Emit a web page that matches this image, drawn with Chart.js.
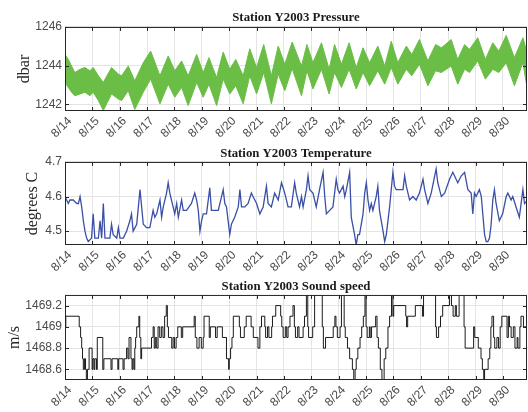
<!DOCTYPE html>
<html>
<head>
<meta charset="utf-8">
<script src="https://cdn.jsdelivr.net/npm/chart.js@4.4.1/dist/chart.umd.min.js"></script>
<style>
  html, body { margin: 0; padding: 0; background: #fff; }
  #wrap { position: relative; width: 528px; height: 412px; overflow: hidden; }
  canvas { position: absolute; left: 0; }
</style>
</head>
<body>
<div id="wrap">
  <canvas id="pressure" width="528" height="140" style="top:0"></canvas>
  <canvas id="temperature" width="528" height="140" style="top:135px"></canvas>
  <canvas id="sound" width="528" height="144" style="top:268px"></canvas>
</div>
<script>
// time axis: days since 8/14 00:00
const dateLabels = ["8/14", "8/15", "8/16", "8/17", "8/18", "8/19", "8/20", "8/21", "8/22",
  "8/23", "8/24", "8/25", "8/26", "8/27", "8/28", "8/29", "8/30"];
const dayTicks = [0, 1, 2, 3, 4, 5, 6, 7, 8, 9, 10, 11, 12, 13, 14, 15, 16];

// pressure is a thick noisy band: upper and lower edge of it
const pressureDay = [0, 0.12, 0.24, 0.36, 0.55, 0.73, 0.91, 1.03, 1.22, 1.4, 1.7, 1.95, 2.07, 2.31, 2.55,
  2.86, 3.13, 3.47, 3.77, 4.01, 4.26, 4.5, 4.81, 5.05, 5.26, 5.54, 5.78, 6.02, 6.24, 6.51, 6.75, 7.0,
  7.26, 7.54, 7.79, 8.03, 8.3, 8.64, 8.84, 9.06, 9.37, 9.65, 9.85, 10.1, 10.38, 10.64, 10.89, 11.13,
  11.43, 11.68, 11.92, 12.16, 12.47, 12.67, 12.95, 13.26, 13.54, 13.75, 14.11, 14.35, 14.6, 14.78,
  15.08, 15.36, 15.63, 15.85, 16.12, 16.42, 16.73, 16.92];
const pressureHigh = [1244.58, 1244.32, 1243.98, 1243.64, 1243.81, 1243.9, 1243.73, 1243.9, 1243.47,
  1243.13, 1243.9, 1243.56, 1243.47, 1243.98, 1243.21, 1244.15, 1244.75, 1243.47, 1244.5, 1243.73,
  1244.24, 1243.47, 1244.58, 1243.64, 1244.41, 1243.38, 1244.7, 1243.81, 1244.32, 1243.47, 1244.87,
  1243.9, 1245.09, 1243.47, 1245.01, 1244.07, 1245.22, 1243.98, 1245.09, 1244.15, 1245.18, 1243.81,
  1245.09, 1244.07, 1245.18, 1243.9, 1244.92, 1244.15, 1245.01, 1243.98, 1245.26, 1244.15, 1245.01,
  1244.58, 1245.35, 1244.24, 1245.09, 1244.92, 1245.35, 1244.32, 1245.09, 1244.84, 1245.44, 1244.32,
  1245.18, 1244.75, 1245.56, 1244.41, 1245.44, 1244.5];
const pressureLow = [1243.13, 1242.87, 1242.62, 1242.44, 1242.53, 1242.62, 1242.44, 1242.62, 1242.19,
  1241.68, 1242.53, 1242.27, 1242.19, 1242.7, 1241.73, 1242.62, 1243.3, 1242.02, 1243.04, 1242.36,
  1242.87, 1241.93, 1243.13, 1242.36, 1243.04, 1241.93, 1243.3, 1242.53, 1242.96, 1242.02, 1243.47,
  1242.53, 1243.64, 1242.02, 1243.56, 1242.7, 1243.85, 1242.44, 1243.73, 1242.79, 1243.81, 1242.53,
  1243.64, 1242.87, 1243.81, 1242.79, 1243.64, 1242.96, 1243.73, 1243.04, 1243.9, 1243.04, 1243.81,
  1243.47, 1244.07, 1242.96, 1243.73, 1243.64, 1243.98, 1243.04, 1243.81, 1243.64, 1244.24, 1243.3,
  1243.81, 1243.64, 1244.15, 1242.96, 1244.15, 1242.53];
const pressureTicks = [1242, 1244, 1246];

const tempDay = [0, 0.12, 0.18, 0.3, 0.43, 0.49, 0.55, 0.61, 0.67, 0.73, 0.79, 0.85, 0.97, 1.03, 1.09,
  1.22, 1.28, 1.34, 1.4, 1.46, 1.64, 1.7, 1.76, 1.89, 1.95, 2.01, 2.13, 2.25, 2.37, 2.43, 2.49, 2.62,
  2.74, 2.8, 2.86, 2.98, 3.1, 3.22, 3.28, 3.35, 3.47, 3.53, 3.59, 3.71, 3.77, 3.83, 3.95, 4.01, 4.08,
  4.14, 4.26, 4.32, 4.44, 4.62, 4.74, 4.81, 4.87, 4.93, 4.99, 5.05, 5.17, 5.29, 5.35, 5.47, 5.6, 5.78,
  5.84, 5.9, 6.02, 6.08, 6.2, 6.33, 6.39, 6.45, 6.57, 6.69, 6.81, 6.87, 7.0, 7.12, 7.24, 7.36, 7.42,
  7.54, 7.66, 7.79, 7.91, 8.03, 8.15, 8.27, 8.39, 8.45, 8.57, 8.64, 8.7, 8.82, 8.88, 8.94, 9.06, 9.18,
  9.3, 9.43, 9.49, 9.55, 9.67, 9.79, 9.91, 9.97, 10.03, 10.16, 10.22, 10.28, 10.4, 10.46, 10.58, 10.64,
  10.7, 10.76, 10.89, 10.95, 11.01, 11.07, 11.13, 11.19, 11.25, 11.37, 11.43, 11.49, 11.62, 11.68,
  11.74, 11.86, 11.98, 12.04, 12.1, 12.22, 12.35, 12.41, 12.47, 12.59, 12.71, 12.83, 12.95, 13.08,
  13.14, 13.26, 13.38, 13.56, 13.62, 13.75, 13.87, 14.05, 14.17, 14.29, 14.35, 14.48, 14.6, 14.72,
  14.84, 14.9, 14.96, 15.02, 15.14, 15.21, 15.33, 15.39, 15.45, 15.51, 15.57, 15.63, 15.69, 15.75,
  15.87, 15.99, 16.12, 16.18, 16.3, 16.36, 16.48, 16.6, 16.73, 16.79, 16.9];
const tempValue = [4.6, 4.58, 4.59, 4.59, 4.58, 4.58, 4.6, 4.57, 4.53, 4.5, 4.48, 4.47, 4.48, 4.55,
  4.48, 4.48, 4.53, 4.48, 4.58, 4.48, 4.48, 4.52, 4.49, 4.48, 4.51, 4.48, 4.48, 4.5, 4.53, 4.55, 4.5,
  4.52, 4.62, 4.57, 4.52, 4.51, 4.51, 4.56, 4.54, 4.55, 4.59, 4.54, 4.57, 4.61, 4.64, 4.61, 4.57, 4.55,
  4.58, 4.54, 4.59, 4.56, 4.56, 4.58, 4.61, 4.59, 4.56, 4.5, 4.53, 4.55, 4.55, 4.625, 4.56, 4.56, 4.56,
  4.62, 4.58, 4.57, 4.49, 4.52, 4.54, 4.57, 4.62, 4.57, 4.57, 4.58, 4.61, 4.6, 4.58, 4.55, 4.57, 4.63,
  4.58, 4.57, 4.61, 4.59, 4.64, 4.61, 4.57, 4.57, 4.64, 4.61, 4.57, 4.6, 4.57, 4.62, 4.66, 4.62, 4.61,
  4.57, 4.62, 4.67, 4.6, 4.55, 4.56, 4.57, 4.65, 4.62, 4.61, 4.63, 4.6, 4.62, 4.67, 4.54, 4.49, 4.46,
  4.49, 4.49, 4.55, 4.61, 4.64, 4.59, 4.56, 4.58, 4.56, 4.6, 4.63, 4.56, 4.5, 4.47, 4.49, 4.57, 4.67,
  4.63, 4.62, 4.62, 4.62, 4.66, 4.63, 4.59, 4.6, 4.59, 4.61, 4.65, 4.62, 4.58, 4.61, 4.68, 4.64, 4.6,
  4.61, 4.65, 4.67, 4.65, 4.64, 4.66, 4.67, 4.62, 4.61, 4.55, 4.61, 4.6, 4.62, 4.6, 4.49, 4.47, 4.47,
  4.48, 4.52, 4.59, 4.62, 4.58, 4.53, 4.55, 4.6, 4.61, 4.59, 4.6, 4.57, 4.54, 4.62, 4.58, 4.59];
const tempTicks = [4.5, 4.6, 4.7];

// sound speed is quantised to 0.1 m/s, each value holds until the next time
const soundDay = [0, 0.03, 0.52, 0.57, 0.61, 0.64, 0.67, 0.71, 0.75, 0.78, 0.82, 0.88, 0.99, 1.02, 1.06,
  1.09, 1.15, 1.18, 1.38, 1.42, 1.68, 1.72, 1.93, 1.96, 2.12, 2.16, 2.25, 2.3, 2.34, 2.41, 2.45, 2.48,
  2.52, 2.55, 2.58, 2.62, 2.7, 2.73, 2.77, 2.8, 3.16, 3.22, 3.26, 3.3, 3.35, 3.4, 3.46, 3.52, 3.58,
  3.64, 3.7, 3.74, 3.78, 3.9, 3.95, 4.0, 4.06, 4.12, 4.25, 4.3, 4.72, 4.76, 4.82, 4.9, 4.98, 5.05,
  5.08, 5.27, 5.31, 5.5, 5.56, 5.75, 5.9, 5.98, 6.0, 6.05, 6.1, 6.15, 6.37, 6.41, 6.55, 6.62, 6.8,
  6.88, 7.05, 7.12, 7.18, 7.3, 7.33, 7.4, 7.45, 7.55, 7.58, 7.7, 7.88, 7.92, 7.97, 8.05, 8.1, 8.15,
  8.22, 8.33, 8.38, 8.42, 8.5, 8.55, 8.7, 8.75, 8.82, 8.87, 8.9, 9.05, 9.12, 9.4, 9.44, 9.52, 9.8,
  9.86, 9.9, 9.95, 10.05, 10.1, 10.2, 10.24, 10.32, 10.4, 10.5, 10.55, 10.6, 10.64, 10.7, 10.78,
  10.84, 10.9, 10.96, 11.0, 11.04, 11.12, 11.15, 11.2, 11.35, 11.4, 11.45, 11.52, 11.58, 11.66,
  11.72, 11.8, 11.86, 11.93, 11.98, 12.01, 12.45, 12.48, 12.52, 12.8, 13.06, 13.1, 13.54, 13.57,
  13.65, 13.72, 13.8, 14.05, 14.12, 14.18, 14.26, 14.3, 14.4, 14.58, 14.62, 14.93, 14.97, 15.1,
  15.2, 15.25, 15.3, 15.33, 15.46, 15.52, 15.56, 15.6, 15.66, 15.7, 15.78, 15.84, 15.9, 15.96, 16.15,
  16.2, 16.24, 16.3, 16.38, 16.44, 16.52, 16.55, 16.62, 16.66, 16.75, 16.8, 16.88];
const soundValue = [1469.1, 1469.0, 1469.1, 1469.0, 1468.9, 1468.8, 1468.7, 1468.6, 1468.7, 1468.6,
  1468.5, 1468.6, 1468.8, 1468.6, 1468.7, 1468.6, 1468.7, 1468.6, 1468.9, 1468.6, 1468.7, 1468.6,
  1468.7, 1468.6, 1468.7, 1468.6, 1468.7, 1468.8, 1468.7, 1468.9, 1468.7, 1468.6, 1468.7, 1468.6,
  1468.8, 1468.9, 1469.0, 1469.1, 1468.9, 1468.7, 1468.8, 1468.9, 1469.0, 1468.8, 1468.9, 1468.8,
  1469.0, 1468.9, 1469.0, 1468.9, 1469.1, 1469.2, 1469.0, 1468.9, 1468.8, 1468.9, 1468.8, 1468.9,
  1469.0, 1468.9, 1469.0, 1469.1, 1468.9, 1468.8, 1468.9, 1468.8, 1468.9, 1469.1, 1468.9, 1469.0,
  1468.9, 1469.0, 1468.9, 1468.7, 1468.6, 1468.7, 1468.8, 1468.9, 1469.1, 1469.0, 1468.9, 1469.0,
  1469.1, 1469.0, 1468.9, 1468.8, 1469.0, 1469.1, 1469.0, 1468.9, 1469.0, 1468.9, 1469.0, 1469.1,
  1469.2, 1469.1, 1469.0, 1468.9, 1469.0, 1468.9, 1469.0, 1469.1, 1469.2, 1469.0, 1468.9, 1469.0,
  1468.9, 1469.0, 1469.1, 1469.3, 1469.0, 1468.9, 1469.0, 1469.3, 1469.0, 1468.8, 1468.9, 1469.0,
  1469.1, 1469.0, 1468.9, 1469.0, 1469.3, 1469.0, 1468.9, 1468.8, 1468.7, 1468.6, 1468.5, 1468.6,
  1468.7, 1468.8, 1468.9, 1469.0, 1469.1, 1469.3, 1469.0, 1468.9, 1469.0, 1468.9, 1469.0, 1469.1,
  1468.9, 1468.8, 1468.6, 1468.5, 1468.7, 1468.8, 1469.0, 1469.1, 1469.3, 1469.1, 1469.2, 1469.1,
  1469.0, 1469.1, 1469.2, 1469.1, 1469.3, 1469.0, 1468.9, 1469.0, 1469.1, 1469.2, 1469.3, 1469.2,
  1469.1, 1469.2, 1469.1, 1469.3, 1469.0, 1468.8, 1469.0, 1468.9, 1468.8, 1468.7, 1468.6, 1468.5,
  1468.6, 1468.7, 1468.8, 1469.0, 1469.1, 1468.9, 1468.8, 1468.9, 1468.8, 1469.0, 1469.1, 1468.9,
  1469.1, 1469.0, 1468.9, 1469.0, 1468.8, 1468.9, 1468.8, 1469.0, 1469.1, 1469.0, 1469.0];
const soundTicks = [1468.6, 1468.8, 1469, 1469.2];

const toPoints = (xs, ys) => xs.map((x, i) => ({ x: x, y: ys[i] }));

// MATLAB-like box with inward ticks on all four sides
const framePlugin = {
  id: "frame",
  afterDatasetsDraw(chart) {
    const { ctx, chartArea: a, scales } = chart;
    const len = 4;
    ctx.save();
    ctx.strokeStyle = "#262626";
    ctx.lineWidth = 1;
    ctx.beginPath();
    scales.x.ticks.forEach((t) => {
      const px = Math.round(scales.x.getPixelForValue(t.value)) + 0.5;
      ctx.moveTo(px, a.bottom); ctx.lineTo(px, a.bottom - len);
      ctx.moveTo(px, a.top); ctx.lineTo(px, a.top + len);
    });
    scales.y.ticks.forEach((t) => {
      const py = Math.round(scales.y.getPixelForValue(t.value)) + 0.5;
      ctx.moveTo(a.left, py); ctx.lineTo(a.left + len, py);
      ctx.moveTo(a.right, py); ctx.lineTo(a.right - len, py);
    });
    ctx.stroke();
    ctx.strokeRect(a.left + 0.5, a.top + 0.5, a.right - a.left - 1, a.bottom - a.top - 1);
    ctx.restore();
  },
};

const tickFont = { family: "'Liberation Sans', Arial, sans-serif", size: 12 };
const tickColor = "#4a4a4a";
const gridColor = "#e4e4e4";

function makePanel(id, cfg) {
  return new Chart(document.getElementById(id), {
    type: "line",
    data: { datasets: cfg.datasets },
    plugins: [framePlugin],
    options: {
      responsive: false,
      animation: false,
      layout: { padding: { left: 0, right: 1, top: 0, bottom: 0 } },
      plugins: {
        legend: { display: false },
        tooltip: { enabled: false },
        title: {
          display: true,
          text: cfg.title,
          fullSize: false,
          color: "#1a1a1a",
          font: { family: "'Liberation Serif', 'Times New Roman', serif", size: 12.8, weight: "bold" },
          padding: cfg.titlePad,
        },
      },
      scales: {
        x: {
          type: "linear",
          min: 0,
          max: 16.88,
          afterBuildTicks: (s) => { s.ticks = dayTicks.map((v) => ({ value: v })); },
          afterFit: (s) => { s.height = cfg.xHeight; },
          grid: { color: gridColor, drawTicks: false },
          border: { display: false },
          ticks: {
            autoSkip: false,
            maxRotation: 45,
            minRotation: 45,
            padding: 3,
            labelOffset: 5,
            color: tickColor,
            font: tickFont,
            callback: (v) => dateLabels[Math.round(v)],
          },
        },
        y: {
          min: cfg.yMin,
          max: cfg.yMax,
          afterBuildTicks: (s) => { s.ticks = cfg.yTicks.map((v) => ({ value: v })); },
          afterFit: (s) => { s.width = 65; },
          grid: { color: gridColor, drawTicks: false },
          border: { display: false },
          ticks: {
            padding: 3,
            color: tickColor,
            font: tickFont,
            callback: (v) => String(Math.round(v * 10) / 10),
          },
          title: {
            display: true,
            text: cfg.yTitle,
            color: "#262626",
            font: { family: "'Liberation Serif', 'Times New Roman', serif", size: 16 },
            padding: { top: cfg.yTitlePad, bottom: 0 },
          },
        },
      },
    },
  });
}

const green = "#6abd45";

makePanel("pressure", {
  title: "Station Y2003 Pressure",
  titlePad: { top: 10.3, bottom: 1.3 },
  xHeight: 29,
  yMin: 1241.65,
  yMax: 1246,
  yTicks: pressureTicks,
  yTitle: "dbar",
  yTitlePad: 15.4,
  datasets: [
    {
      data: toPoints(pressureDay, pressureHigh),
      borderColor: green,
      backgroundColor: green,
      borderWidth: 1,
      pointRadius: 0,
      fill: "+1",
    },
    {
      data: toPoints(pressureDay, pressureLow),
      borderColor: green,
      backgroundColor: green,
      borderWidth: 1,
      pointRadius: 0,
      fill: false,
    },
  ],
});

makePanel("temperature", {
  title: "Station Y2003 Temperature",
  titlePad: { top: 10.8, bottom: 0.8 },
  xHeight: 30,
  yMin: 4.46,
  yMax: 4.7,
  yTicks: tempTicks,
  yTitle: "degrees C",
  yTitlePad: 23.4,
  datasets: [
    {
      data: toPoints(tempDay, tempValue),
      borderColor: "#3a4fa6",
      borderWidth: 1.3,
      pointRadius: 0,
      fill: false,
    },
  ],
});

makePanel("sound", {
  title: "Station Y2003 Sound speed",
  titlePad: { top: 11.5, bottom: 0.1 },
  xHeight: 32,
  yMin: 1468.5,
  yMax: 1469.3,
  yTicks: soundTicks,
  yTitle: "m/s",
  yTitlePad: 4.9,
  datasets: [
    {
      data: toPoints(soundDay, soundValue),
      borderColor: "#000000",
      borderWidth: 0.9,
      pointRadius: 0,
      stepped: "after",
      fill: false,
    },
  ],
});
</script>
</body>
</html>
